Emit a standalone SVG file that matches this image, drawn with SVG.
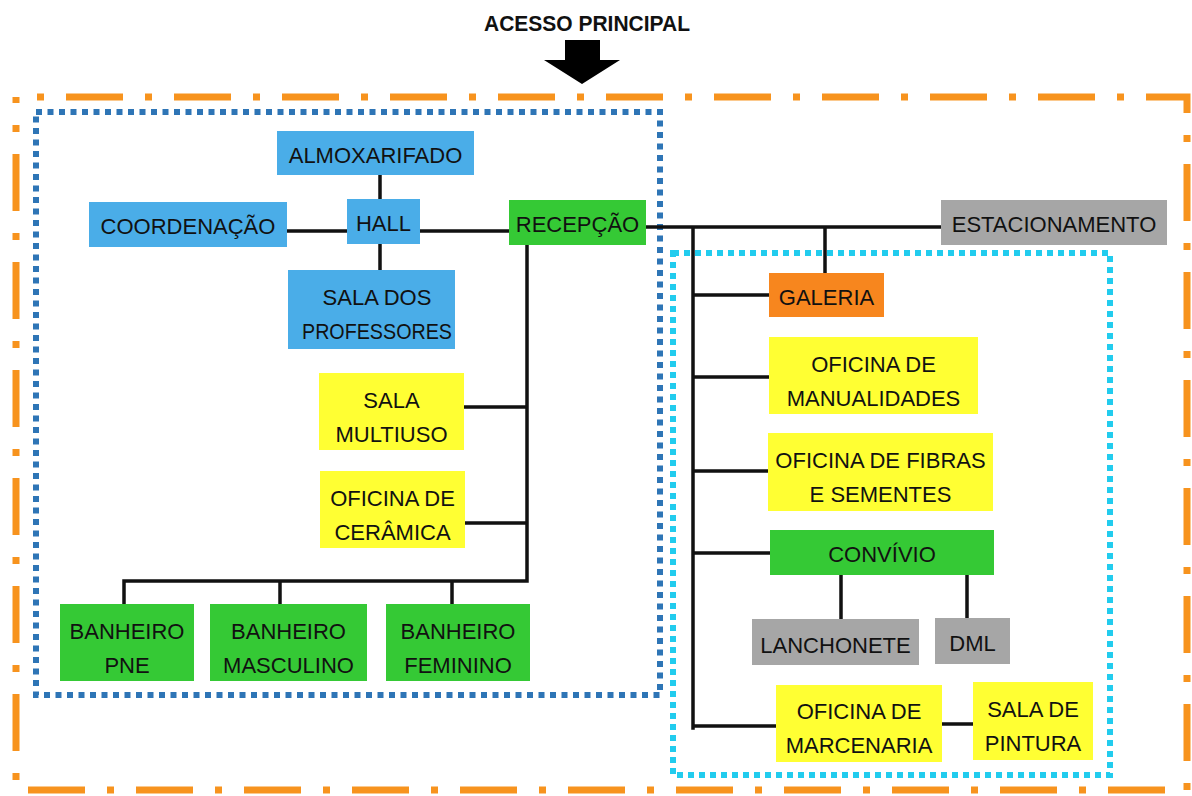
<svg xmlns="http://www.w3.org/2000/svg" width="1192" height="796" viewBox="0 0 1192 796">
<style>
text{font-family:"Liberation Sans",Arial,sans-serif;font-size:22px;fill:#111;text-anchor:middle}
.blue{fill:#4AADE8}.green{fill:#35C935}.yellow{fill:#FFFF33}.gray{fill:#A6A6A6}.orange{fill:#F7861E}
.con{stroke:#111;stroke-width:3.5;fill:none;stroke-linecap:square}
</style>
<rect width="1192" height="796" fill="#fff"/>
<g id="zones">
<path d="M16 97 H1187 V790 H16 Z" fill="none" stroke="#F7931E" stroke-width="7" stroke-dasharray="57 22 7 22" stroke-dashoffset="58"/>
<rect x="36" y="112" width="624" height="583" fill="none" stroke="#2E75B6" stroke-width="6" stroke-dasharray="6 5.5"/>
<rect x="673" y="253" width="437" height="522" fill="none" stroke="#22CCEE" stroke-width="6" stroke-dasharray="6 5"/>
</g>
<g id="title">
<text x="587" y="31" font-weight="bold" font-size="26" textLength="206" lengthAdjust="spacingAndGlyphs">ACESSO PRINCIPAL</text>
<polygon points="565,40 600,40 600,60 620,60 582,84 544,60 565,60" fill="#000"/>
</g>
<g id="connectors">
<path class="con" d="M380 175V199M380 245V270M287 231H347M420 231H509M646 227H941M693 227V728M825 227V273M693 295H769M693 377H769M693 471H768M693 553H770M693 726H776M942 724H973M841 575V619M967 575V618M527 245V581H124V604M280 581V604M452 581V604M464 407H527M465 523H527"/>
</g>
<g id="almoxarifado"><rect class="blue" x="277" y="131" width="197" height="44"/><text x="375.5" y="163">ALMOXARIFADO</text></g>
<g id="hall"><rect class="blue" x="347" y="199" width="73" height="45"/><text x="383.5" y="231">HALL</text></g>
<g id="coordenacao"><rect class="blue" x="89" y="202" width="198" height="45"/><text x="188" y="234">COORDENAÇÃO</text></g>
<g id="recepcao"><rect class="green" x="509" y="200" width="137" height="45"/><text x="577.5" y="232">RECEPÇÃO</text></g>
<g id="professores"><rect class="blue" x="288" y="270" width="167" height="79"/><text x="377" y="305">SALA DOS</text><text x="377" y="339" textLength="150" lengthAdjust="spacingAndGlyphs">PROFESSORES</text></g>
<g id="multiuso"><rect class="yellow" x="319" y="373" width="145" height="77"/><text x="391.5" y="408">SALA</text><text x="391.5" y="442">MULTIUSO</text></g>
<g id="ceramica"><rect class="yellow" x="320" y="471" width="145" height="77"/><text x="392.5" y="506">OFICINA DE</text><text x="392.5" y="540">CERÂMICA</text></g>
<g id="banheiro-pne"><rect class="green" x="60" y="604" width="134" height="77"/><text x="127" y="639">BANHEIRO</text><text x="127" y="673">PNE</text></g>
<g id="banheiro-masculino"><rect class="green" x="210" y="604" width="157" height="77"/><text x="288.5" y="639">BANHEIRO</text><text x="288.5" y="673">MASCULINO</text></g>
<g id="banheiro-feminino"><rect class="green" x="386" y="604" width="144" height="77"/><text x="458" y="639">BANHEIRO</text><text x="458" y="673">FEMININO</text></g>
<g id="estacionamento"><rect class="gray" x="941" y="200" width="226" height="45"/><text x="1054" y="232">ESTACIONAMENTO</text></g>
<g id="galeria"><rect class="orange" x="769" y="273" width="115" height="44"/><text x="826.5" y="305">GALERIA</text></g>
<g id="manualidades"><rect class="yellow" x="769" y="337" width="209" height="77"/><text x="873.5" y="372">OFICINA DE</text><text x="873.5" y="406">MANUALIDADES</text></g>
<g id="fibras"><rect class="yellow" x="768" y="433" width="225" height="78"/><text x="880.5" y="468">OFICINA DE FIBRAS</text><text x="880.5" y="502">E SEMENTES</text></g>
<g id="convivio"><rect class="green" x="770" y="530" width="224" height="45"/><text x="882" y="562">CONVÍVIO</text></g>
<g id="lanchonete"><rect class="gray" x="752" y="619" width="167" height="46"/><text x="835.5" y="653">LANCHONETE</text></g>
<g id="dml"><rect class="gray" x="935" y="618" width="75" height="46"/><text x="972.5" y="651">DML</text></g>
<g id="marcenaria"><rect class="yellow" x="776" y="685" width="166" height="77"/><text x="859" y="719">OFICINA DE</text><text x="859" y="753">MARCENARIA</text></g>
<g id="pintura"><rect class="yellow" x="973" y="682" width="120" height="78"/><text x="1033" y="717">SALA DE</text><text x="1033" y="751">PINTURA</text></g>
</svg>
